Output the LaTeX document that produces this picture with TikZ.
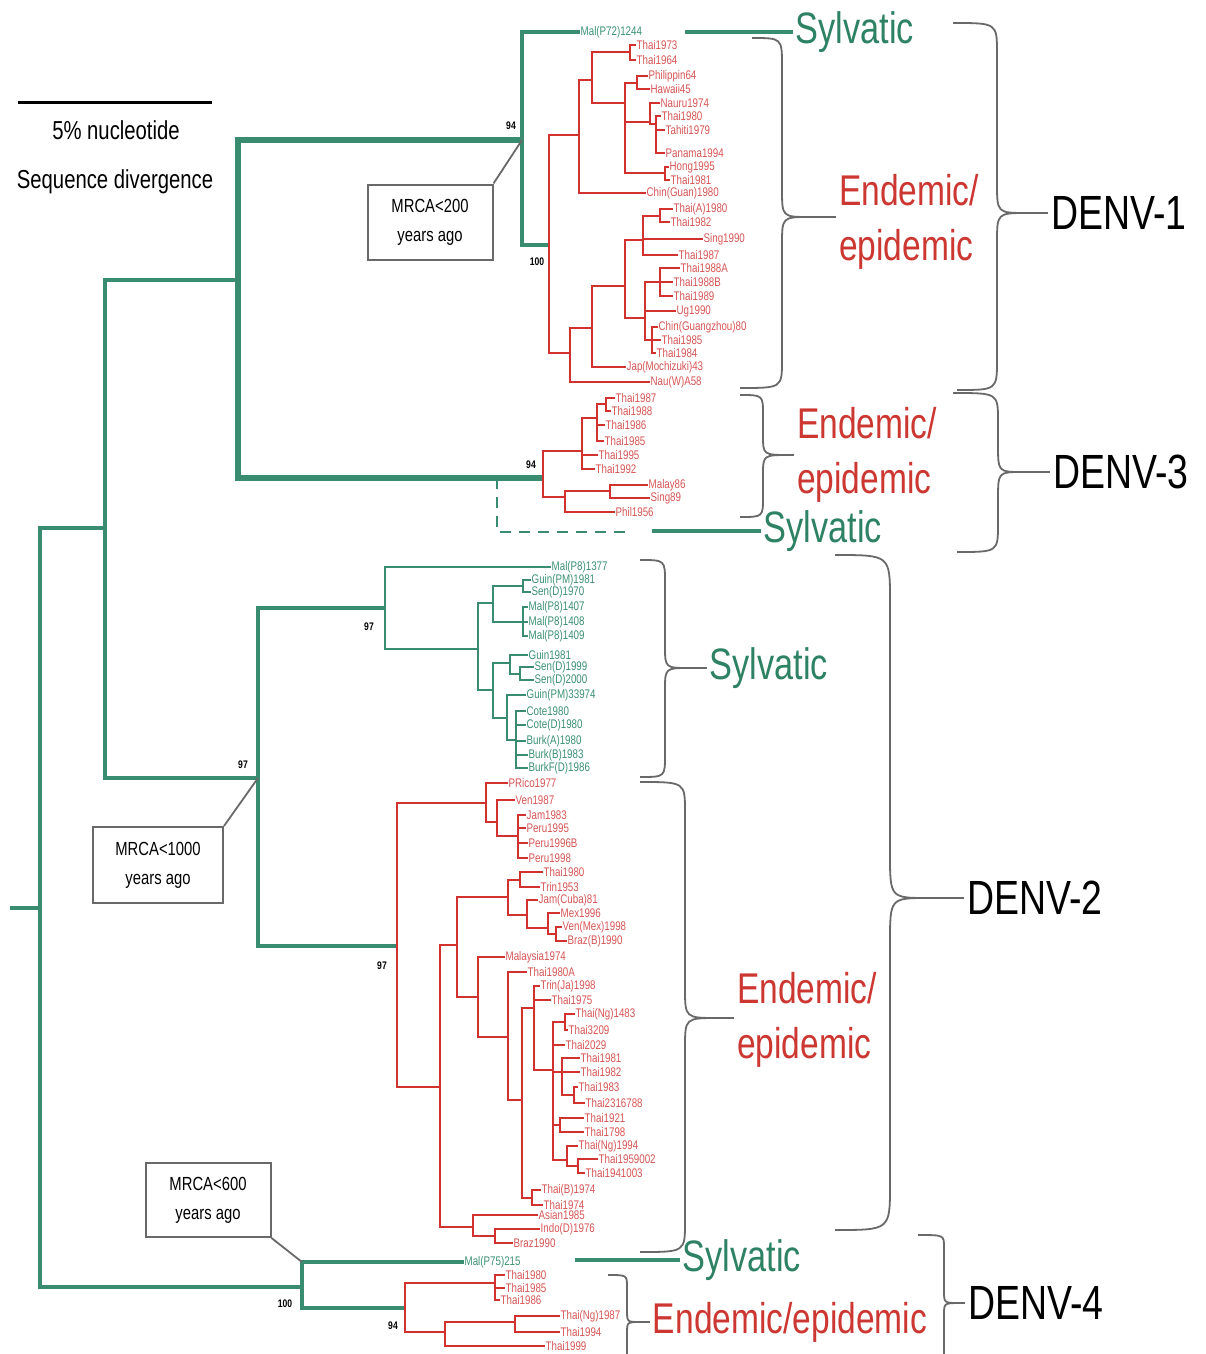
\documentclass[tikz,border=0pt]{standalone}
\usepackage{fontspec}
\setmainfont{Liberation Sans}
\newfontfamily\nsans[FakeStretch=0.78]{Liberation Sans}
\definecolor{tgreen}{RGB}{58,140,112}
\definecolor{tred}{RGB}{210,50,45}
\definecolor{lred}{RGB}{215,85,85}
\definecolor{lgreen}{RGB}{60,145,115}
\definecolor{sylg}{RGB}{45,130,100}
\definecolor{endr}{RGB}{205,55,50}
\definecolor{bgray}{RGB}{105,105,105}
\tikzset{
 gb/.style={draw=tgreen,line width=3.4pt},
 gk/.style={draw=tgreen,line width=5.5pt},
 gl/.style={draw=tgreen,line width=2.7pt},
 rb/.style={draw=tred,line width=2.7pt},
 lr/.style={anchor=west,inner sep=0.5pt,text=lred,font=\nsans\fontsize{12.5}{12.5}\selectfont},
 lg/.style={lr,text=lgreen},
 bs/.style={inner sep=0pt,font=\nsans\fontsize{11}{11}\selectfont\bfseries},
 brc/.style={draw=bgray,line width=1.8pt},
 syl/.style={text=sylg,inner sep=3pt,font=\nsans\fontsize{44}{44}\selectfont},
 endm/.style={text=endr,inner sep=3pt,align=left,font=\nsans\fontsize{43}{55}\selectfont},
 den/.style={text=black,inner sep=3pt,font=\nsans\fontsize{48}{48}\selectfont},
 mbox/.style={draw=bgray,line width=2pt,align=center,inner sep=0pt,font=\nsans\fontsize{19}{29}\selectfont},
 ptr/.style={draw=tgreen,line width=4.5pt},
}
\newcommand\leafR[4]{\node[lr] (#1) at (#2,#3) {#4};}
\newcommand\leafG[4]{\node[lg] (#1) at (#2,#3) {#4};}
\newcommand\mybrace[8]{\draw[brc] (#1,#2) .. controls (#3,#2) .. (#3,#2+#8) -- (#3,#4-#8) .. controls (#3,#4) .. (#5,#4) .. controls (#3,#4) .. (#3,#4+#8) -- (#3,#6-#8) .. controls (#3,#6) .. (#7,#6);}
\begin{document}
\begin{tikzpicture}[x=1pt,y=-1pt]
\useasboundingbox (0,0) rectangle (1206,1354);
\fill[white] (0,0) rectangle (1206,1354);
\clip (0,0) rectangle (1206,1354);

% scale bar
\coordinate (sb1) at (18,102);
\coordinate (sb2) at (212,102);
\draw[line width=3pt] (sb1) -- (sb2);
\node[font=\nsans\fontsize{26}{26}\selectfont] (sbt1) at (116,130) {5\% nucleotide};
\node[font=\nsans\fontsize{26}{26}\selectfont] (sbt2) at (115,182) {Sequence divergence};

% backbone
\coordinate (r0) at (10,908);
\coordinate (RT) at (40,908);
\coordinate (P1) at (105,528);
\coordinate (DA) at (302,1287);
\coordinate (P2) at (238,280);
\coordinate (X2) at (258,778);
\coordinate (N1) at (522,140);
\coordinate (N3) at (543,478);
\coordinate (D3S) at (497,478);
\coordinate (S3E) at (630,532);
\draw[gb] (r0) -- (RT);
\draw[gb] (RT) |- (P1) (RT) |- (DA);
\draw[gb] (P1) |- (P2) (P1) |- (X2);
\draw[gk] (P2) |- (N1) (P2) |- (N3);
\draw[draw=tgreen,line width=2.5pt,dash pattern=on 11pt off 8pt] (D3S) |- (S3E);

% ---------------- DENV-1 ----------------
\leafG{s1}{580}{32}{Mal(P72)1244}
\coordinate (A) at (549,245);
\draw[gb] (N1) |- (s1.west) (N1) |- (A);
\coordinate (B) at (579,135);
\coordinate (K) at (592,80);
\coordinate (L) at (630,52);
\coordinate (M) at (625,103);
\coordinate (Nn) at (637,83);
\coordinate (Q) at (650,122);
\coordinate (Rr) at (656,124);
\coordinate (O) at (665,173);
\coordinate (C) at (570,353);
\coordinate (D) at (592,328);
\coordinate (E) at (625,286);
\coordinate (F) at (643,240);
\coordinate (H) at (660,216);
\coordinate (G) at (645,318);
\coordinate (I) at (660,282);
\coordinate (J) at (652,340);
\leafR{a1}{636}{45}{Thai1973}
\leafR{a2}{636}{60}{Thai1964}
\leafR{a3}{648}{76}{Philippin64}
\leafR{a4}{650}{89}{Hawaii45}
\leafR{a5}{660}{103}{Nauru1974}
\leafR{a6}{661}{116}{Thai1980}
\leafR{a7}{665}{130}{Tahiti1979}
\leafR{a8}{665}{153}{Panama1994}
\leafR{a9}{669}{167}{Hong1995}
\leafR{a10}{670}{180}{Thai1981}
\leafR{a11}{646}{193}{Chin(Guan)1980}
\leafR{b1}{673}{209}{Thai(A)1980}
\leafR{b2}{670}{222}{Thai1982}
\leafR{b3}{703}{239}{Sing1990}
\leafR{b4}{678}{255}{Thai1987}
\leafR{b5}{680}{268}{Thai1988A}
\leafR{b6}{673}{282}{Thai1988B}
\leafR{b7}{673}{296}{Thai1989}
\leafR{b8}{676}{311}{Ug1990}
\leafR{b9}{658}{327}{Chin(Guangzhou)80}
\leafR{b10}{661}{340}{Thai1985}
\leafR{b11}{656}{353}{Thai1984}
\leafR{b12}{626}{367}{Jap(Mochizuki)43}
\leafR{b13}{650}{382}{Nau(W)A58}
\draw[rb] (A) |- (B) (A) |- (C) (B) |- (K) (B) |- (a11.west)
 (K) |- (L) (K) |- (M) (L) |- (a1.west) (L) |- (a2.west)
 (M) |- (Nn) (M) |- (Q) (M) |- (O) (Nn) |- (a3.west) (Nn) |- (a4.west)
 (Q) |- (a5.west) (Q) |- (Rr) (Rr) |- (a6.west) (Rr) |- (a7.west) (Rr) |- (a8.west)
 (O) |- (a9.west) (O) |- (a10.west)
 (C) |- (D) (C) |- (b13.west) (D) |- (E) (D) |- (b12.west)
 (E) |- (F) (E) |- (G) (F) |- (H) (F) |- (b3.west) (F) |- (b4.west)
 (H) |- (b1.west) (H) |- (b2.west)
 (G) |- (I) (G) |- (b8.west) (G) |- (J)
 (I) |- (b5.west) (I) |- (b6.west) (I) |- (b7.west)
 (J) |- (b9.west) (J) |- (b10.west) (J) |- (b11.west);

% ---------------- DENV-3 ----------------
\coordinate (S) at (582,451);
\coordinate (T) at (597,418);
\coordinate (U) at (606,404);
\coordinate (V) at (565,497);
\coordinate (W) at (610,491);
\leafR{c1}{615}{398}{Thai1987}
\leafR{c2}{611}{411}{Thai1988}
\leafR{c3}{605}{425}{Thai1986}
\leafR{c4}{604}{441}{Thai1985}
\leafR{c5}{598}{455}{Thai1995}
\leafR{c6}{595}{469}{Thai1992}
\leafR{c7}{648}{485}{Malay86}
\leafR{c8}{650}{498}{Sing89}
\leafR{c9}{615}{512}{Phil1956}
\draw[rb] (N3) |- (S) (N3) |- (V) (S) |- (T) (S) |- (c5.west) (S) |- (c6.west)
 (T) |- (U) (T) |- (c3.west) (T) |- (c4.west) (U) |- (c1.west) (U) |- (c2.west)
 (V) |- (W) (V) |- (c9.west) (W) |- (c7.west) (W) |- (c8.west);

% ---------------- DENV-2 sylvatic ----------------
\coordinate (X) at (385,608);
\coordinate (Z) at (478,649);
\coordinate (AA) at (493,603);
\coordinate (AB) at (493,690);
\coordinate (AC) at (523,586);
\coordinate (AD) at (523,622);
\coordinate (AE) at (510,663);
\coordinate (AF) at (520,674);
\coordinate (AG) at (507,718);
\coordinate (AH) at (516,740);
\leafG{s2}{551}{567}{Mal(P8)1377}
\leafG{e1}{531}{580}{Guin(PM)1981}
\leafG{e2}{531}{592}{Sen(D)1970}
\leafG{e3}{528}{607}{Mal(P8)1407}
\leafG{e4}{528}{622}{Mal(P8)1408}
\leafG{e5}{528}{636}{Mal(P8)1409}
\leafG{e6}{528}{655}{Guin1981}
\leafG{e7}{534}{667}{Sen(D)1999}
\leafG{e8}{534}{680}{Sen(D)2000}
\leafG{e9}{526}{695}{Guin(PM)33974}
\leafG{e10}{526}{711}{Cote1980}
\leafG{e11}{526}{725}{Cote(D)1980}
\leafG{e12}{526}{741}{Burk(A)1980}
\leafG{e13}{528}{755}{Burk(B)1983}
\leafG{e14}{528}{768}{BurkF(D)1986}
\draw[gb] (X2) |- (X);
\draw[gl] (X) |- (s2.west) (X) |- (Z) (Z) |- (AA) (Z) |- (AB)
 (AA) |- (AC) (AA) |- (AD) (AC) |- (e1.west) (AC) |- (e2.west)
 (AD) |- (e3.west) (AD) |- (e4.west) (AD) |- (e5.west)
 (AB) |- (AE) (AB) |- (AG) (AE) |- (e6.west) (AE) |- (AF)
 (AF) |- (e7.west) (AF) |- (e8.west) (AG) |- (e9.west) (AG) |- (AH)
 (AH) |- (e10.west) (AH) |- (e11.west) (AH) |- (e12.west) (AH) |- (e13.west) (AH) |- (e14.west);

% ---------------- DENV-2 endemic ----------------
\coordinate (AI) at (397,946);
\coordinate (AJ) at (486,803);
\coordinate (AL) at (497,822);
\coordinate (AM) at (518,836);
\coordinate (AK) at (440,1087);
\coordinate (AN) at (457,945);
\coordinate (AO) at (473,1227);
\coordinate (AP) at (508,897);
\coordinate (AR) at (520,880);
\coordinate (AS) at (527,915);
\coordinate (AT) at (548,928);
\coordinate (AU) at (556,934);
\coordinate (AQ) at (478,997);
\coordinate (AV) at (508,1037);
\coordinate (AW) at (522,1100);
\coordinate (AX) at (534,1008);
\coordinate (BA) at (553,1070);
\coordinate (BB) at (565,1022);
\coordinate (BC) at (562,1072);
\coordinate (BD) at (574,1095);
\coordinate (BE) at (560,1125);
\coordinate (BF) at (567,1160);
\coordinate (BG) at (578,1166);
\coordinate (AZ) at (532,1198);
\coordinate (BH) at (495,1236);
\leafR{f1}{508}{783}{PRico1977}
\leafR{f2}{515}{800}{Ven1987}
\leafR{f3}{526}{815}{Jam1983}
\leafR{f4}{526}{828}{Peru1995}
\leafR{f5}{528}{843}{Peru1996B}
\leafR{f6}{528}{858}{Peru1998}
\leafR{g1}{543}{872}{Thai1980}
\leafR{g2}{540}{887}{Trin1953}
\leafR{g3}{538}{900}{Jam(Cuba)81}
\leafR{g4}{560}{913}{Mex1996}
\leafR{g5}{562}{927}{Ven(Mex)1998}
\leafR{g6}{567}{941}{Braz(B)1990}
\leafR{g7}{505}{957}{Malaysia1974}
\leafR{h1}{527}{972}{Thai1980A}
\leafR{h2}{540}{986}{Trin(Ja)1998}
\leafR{h3}{551}{1000}{Thai1975}
\leafR{h4}{575}{1014}{Thai(Ng)1483}
\leafR{h5}{568}{1030}{Thai3209}
\leafR{h6}{565}{1045}{Thai2029}
\leafR{h7}{580}{1058}{Thai1981}
\leafR{h8}{580}{1072}{Thai1982}
\leafR{h9}{578}{1087}{Thai1983}
\leafR{h10}{585}{1103}{Thai2316788}
\leafR{h11}{584}{1118}{Thai1921}
\leafR{h12}{584}{1132}{Thai1798}
\leafR{h13}{578}{1146}{Thai(Ng)1994}
\leafR{h14}{598}{1159}{Thai1959002}
\leafR{h15}{585}{1173}{Thai1941003}
\leafR{h16}{541}{1190}{Thai(B)1974}
\leafR{h17}{543}{1205}{Thai1974}
\leafR{h18}{538}{1215}{Asian1985}
\leafR{h19}{540}{1229}{Indo(D)1976}
\leafR{h20}{513}{1243}{Braz1990}
\draw[gb] (X2) |- (AI);
\draw[rb] (AI) |- (AJ) (AI) |- (AK)
 (AJ) |- (f1.west) (AJ) |- (AL) (AL) |- (f2.west) (AL) |- (AM)
 (AM) |- (f3.west) (AM) |- (f4.west) (AM) |- (f5.west) (AM) |- (f6.west)
 (AK) |- (AN) (AK) |- (AO) (AN) |- (AP) (AN) |- (AQ)
 (AP) |- (AR) (AP) |- (AS) (AR) |- (g1.west) (AR) |- (g2.west)
 (AS) |- (g3.west) (AS) |- (AT) (AT) |- (g4.west) (AT) |- (AU)
 (AU) |- (g5.west) (AU) |- (g6.west)
 (AQ) |- (g7.west) (AQ) |- (AV) (AV) |- (h1.west) (AV) |- (AW)
 (AW) |- (AX) (AW) |- (AZ) (AX) |- (h2.west) (AX) |- (h3.west) (AX) |- (BA)
 (BA) |- (BB) (BA) |- (h6.west) (BA) |- (BC) (BA) |- (BE) (BA) |- (BF)
 (BB) |- (h4.west) (BB) |- (h5.west)
 (BC) |- (h7.west) (BC) |- (h8.west) (BC) |- (BD) (BD) |- (h9.west) (BD) |- (h10.west)
 (BE) |- (h11.west) (BE) |- (h12.west)
 (BF) |- (h13.west) (BF) |- (BG) (BG) |- (h14.west) (BG) |- (h15.west)
 (AZ) |- (h16.west) (AZ) |- (h17.west)
 (AO) |- (h18.west) (AO) |- (BH) (BH) |- (h19.west) (BH) |- (h20.west);

% ---------------- DENV-4 ----------------
\coordinate (DB) at (405,1308);
\coordinate (DC) at (495,1283);
\coordinate (DD) at (445,1332);
\coordinate (DE) at (515,1322);
\leafG{s4}{464}{1262}{Mal(P75)215}
\leafR{k1}{505}{1275}{Thai1980}
\leafR{k2}{505}{1288}{Thai1985}
\leafR{k3}{500}{1300}{Thai1986}
\leafR{k4}{560}{1316}{Thai(Ng)1987}
\leafR{k5}{560}{1332}{Thai1994}
\leafR{k6}{545}{1346}{Thai1999}
\draw[gb] (DA) |- (s4.west) (DA) |- (DB);
\draw[rb] (DB) |- (DC) (DB) |- (DD) (DC) |- (k1.west) (DC) |- (k2.west) (DC) |- (k3.west)
 (DD) |- (DE) (DD) |- (k6.west) (DE) |- (k4.west) (DE) |- (k5.west);

% bootstrap values
\node[bs] (bt1) at (511,126) {94};
\node[bs] (bt2) at (537,262) {100};
\node[bs] (bt3) at (531,465) {94};
\node[bs] (bt4) at (243,765) {97};
\node[bs] (bt5) at (369,627) {97};
\node[bs] (bt6) at (382,966) {97};
\node[bs] (bt7) at (285,1304) {100};
\node[bs] (bt8) at (393,1326) {94};

% MRCA boxes
\node[mbox,minimum width=125pt,minimum height=75pt] (mb1) at (430,222) {MRCA<200\\years ago};
\node[mbox,minimum width=130pt,minimum height=76pt] (mb2) at (158,865) {MRCA<1000\\years ago};
\node[mbox,minimum width=125pt,minimum height=74pt] (mb3) at (208,1200) {MRCA<600\\years ago};
\draw[brc] (mb1.north east) -- (N1);
\draw[brc] (mb2.north east) -- (X2);
\draw[brc] (mb3.south east) -- (DA |- s4.west);

% group labels
\node[syl] (syl1) at (855,32) {Sylvatic};
\node[syl] (syl3) at (823,531) {Sylvatic};
\node[syl] (syl2) at (769,668) {Sylvatic};
\node[syl] (syl4) at (742,1260) {Sylvatic};
\coordinate (p1) at (685,32);
\coordinate (p3) at (652,531);
\coordinate (p4) at (575,1260);
\draw[ptr] (p1) -- (syl1.west);
\draw[ptr] (p3) -- (syl3.west);
\draw[ptr] (p4) -- (syl4.west);

\node[endm] (en1) at (909,222) {Endemic/\\epidemic};
\node[endm] (en3) at (867,455) {Endemic/\\epidemic};
\node[endm] (en2) at (807,1020) {Endemic/\\epidemic};
\node[endm] (en4) at (790,1322) {Endemic/epidemic};

\node[den] (dv1) at (1119,213) {DENV-1};
\node[den] (dv3) at (1121,472) {DENV-3};
\node[den] (dv2) at (1035,898) {DENV-2};
\node[den] (dv4) at (1036,1303) {DENV-4};

% braces
\mybrace{752}{38}{782}{217}{810}{388}{740}{28}
\mybrace{953}{23}{997}{213}{1027}{390}{957}{30}
\mybrace{740}{395}{763}{455}{790}{517}{740}{20}
\mybrace{953}{393}{998}{472}{1022}{552}{957}{28}
\mybrace{640}{560}{665}{668}{690}{777}{640}{22}
\mybrace{640}{782}{685}{1018}{718}{1252}{640}{30}
\mybrace{835}{555}{890}{898}{928}{1230}{835}{45}
\mybrace{608}{1275}{627}{1322}{640}{1385}{608}{12}
\mybrace{918}{1235}{944}{1303}{960}{1385}{918}{12}
\coordinate (t1) at (810,217);
\coordinate (t2) at (1027,213);
\coordinate (t3) at (790,455);
\coordinate (t4) at (1022,472);
\coordinate (t5) at (690,668);
\coordinate (t6) at (718,1018);
\coordinate (t7) at (928,898);
\coordinate (t8) at (640,1322);
\coordinate (t9) at (960,1303);
\draw[brc] (t1) -- (t1 -| en1.west);
\draw[brc] (t2) -- (t2 -| dv1.west);
\draw[brc] (t3) -- (t3 -| en3.west);
\draw[brc] (t4) -- (t4 -| dv3.west);
\draw[brc] (t5) -- (t5 -| syl2.west);
\draw[brc] (t6) -- (t6 -| en2.west);
\draw[brc] (t7) -- (t7 -| dv2.west);
\draw[brc] (t8) -- (t8 -| en4.west);
\draw[brc] (t9) -- (t9 -| dv4.west);
\end{tikzpicture}
\end{document}
